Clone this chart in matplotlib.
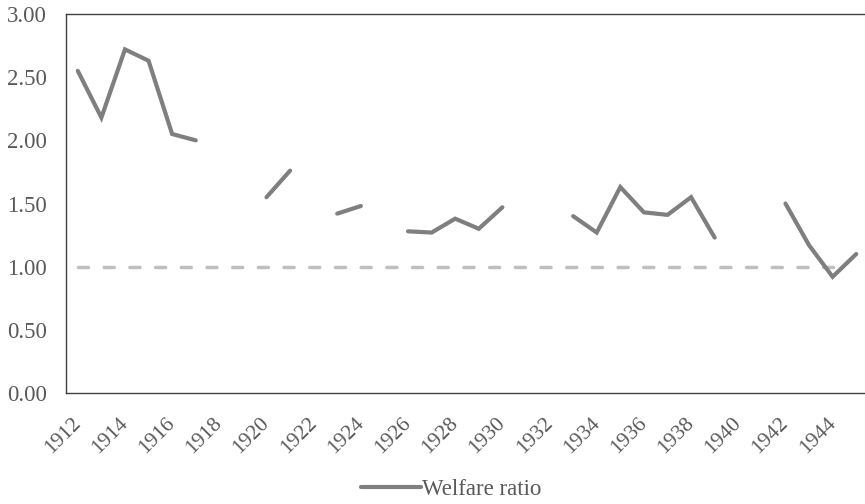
import numpy as np
import matplotlib
matplotlib.use("Agg")
import matplotlib.pyplot as plt
from matplotlib.transforms import ScaledTranslation

years = list(range(1912, 1946))
welfare = [2.55, 2.18, 2.72, 2.63, 2.05, 2.00, None, None, 1.55, 1.76,
           None, 1.42, 1.48, None, 1.28, 1.27, 1.38, 1.30, 1.47, None,
           None, 1.40, 1.27, 1.63, 1.43, 1.41, 1.55, 1.23, None, None,
           1.50, 1.17, 0.92, 1.10]
baseline_years = list(range(1912, 1945))
baseline = [1.0] * len(baseline_years)
yticks = [0.0, 0.5, 1.0, 1.5, 2.0, 2.5, 3.0]
xtick_years = list(range(1912, 1946, 2))

plt.rcParams['font.family'] = ['Liberation Serif', 'DejaVu Serif']

W, H = 865, 504
fig = plt.figure(figsize=(W / 100, H / 100), dpi=100)
left, right, top, bottom = 66, 868, 14, 393
ax = fig.add_axes([left / W, 1 - bottom / H, (right - left) / W, (bottom - top) / H])

wy = np.array([np.nan if v is None else v for v in welfare], dtype=float)
xi = np.array([y - 1912 for y in years])
bx = np.array([y - 1912 for y in baseline_years])

FS = 16.5
ax.plot(bx, baseline, color='#bfbfbf', lw=2.5, dashes=(2.9, 4.5),
        dash_capstyle='round', zorder=2)
line, = ax.plot(xi, wy, color='#7f7f7f', lw=3.0, solid_capstyle='round',
                solid_joinstyle='miter', zorder=3, label='Welfare ratio')

ax.set_xlim(-0.5, len(years) - 0.5)
ax.set_ylim(0, 3)
ax.set_yticks(yticks)
ax.set_yticklabels([f"{v:.2f}" for v in yticks])
ax.set_xticks([y - 1912 for y in xtick_years])
ax.set_xticklabels([str(y) for y in xtick_years], rotation=45, ha='right', va='top',
                   rotation_mode='default')
ax.tick_params(axis='both', length=0, labelsize=FS, colors='#595959')
ax.tick_params(axis='x', labelsize=15.5, pad=15)
ax.tick_params(axis='y', pad=13.5)
off = ScaledTranslation(7 / 100, 0, fig.dpi_scale_trans)
for lbl in ax.get_xticklabels():
    lbl.set_transform(lbl.get_transform() + off)
for s in ax.spines.values():
    s.set_color('#404040')
    s.set_linewidth(1.0)

leg = fig.legend(handles=[line], labels=['Welfare ratio'], loc='center',
                 bbox_to_anchor=(451 / W, 1 - 489 / H), frameon=False, fontsize=FS,
                 handlelength=2.6, handletextpad=0.05, borderaxespad=0, borderpad=0)
for t in leg.get_texts():
    t.set_color('#595959')

fig.savefig('out.png', dpi=100)
